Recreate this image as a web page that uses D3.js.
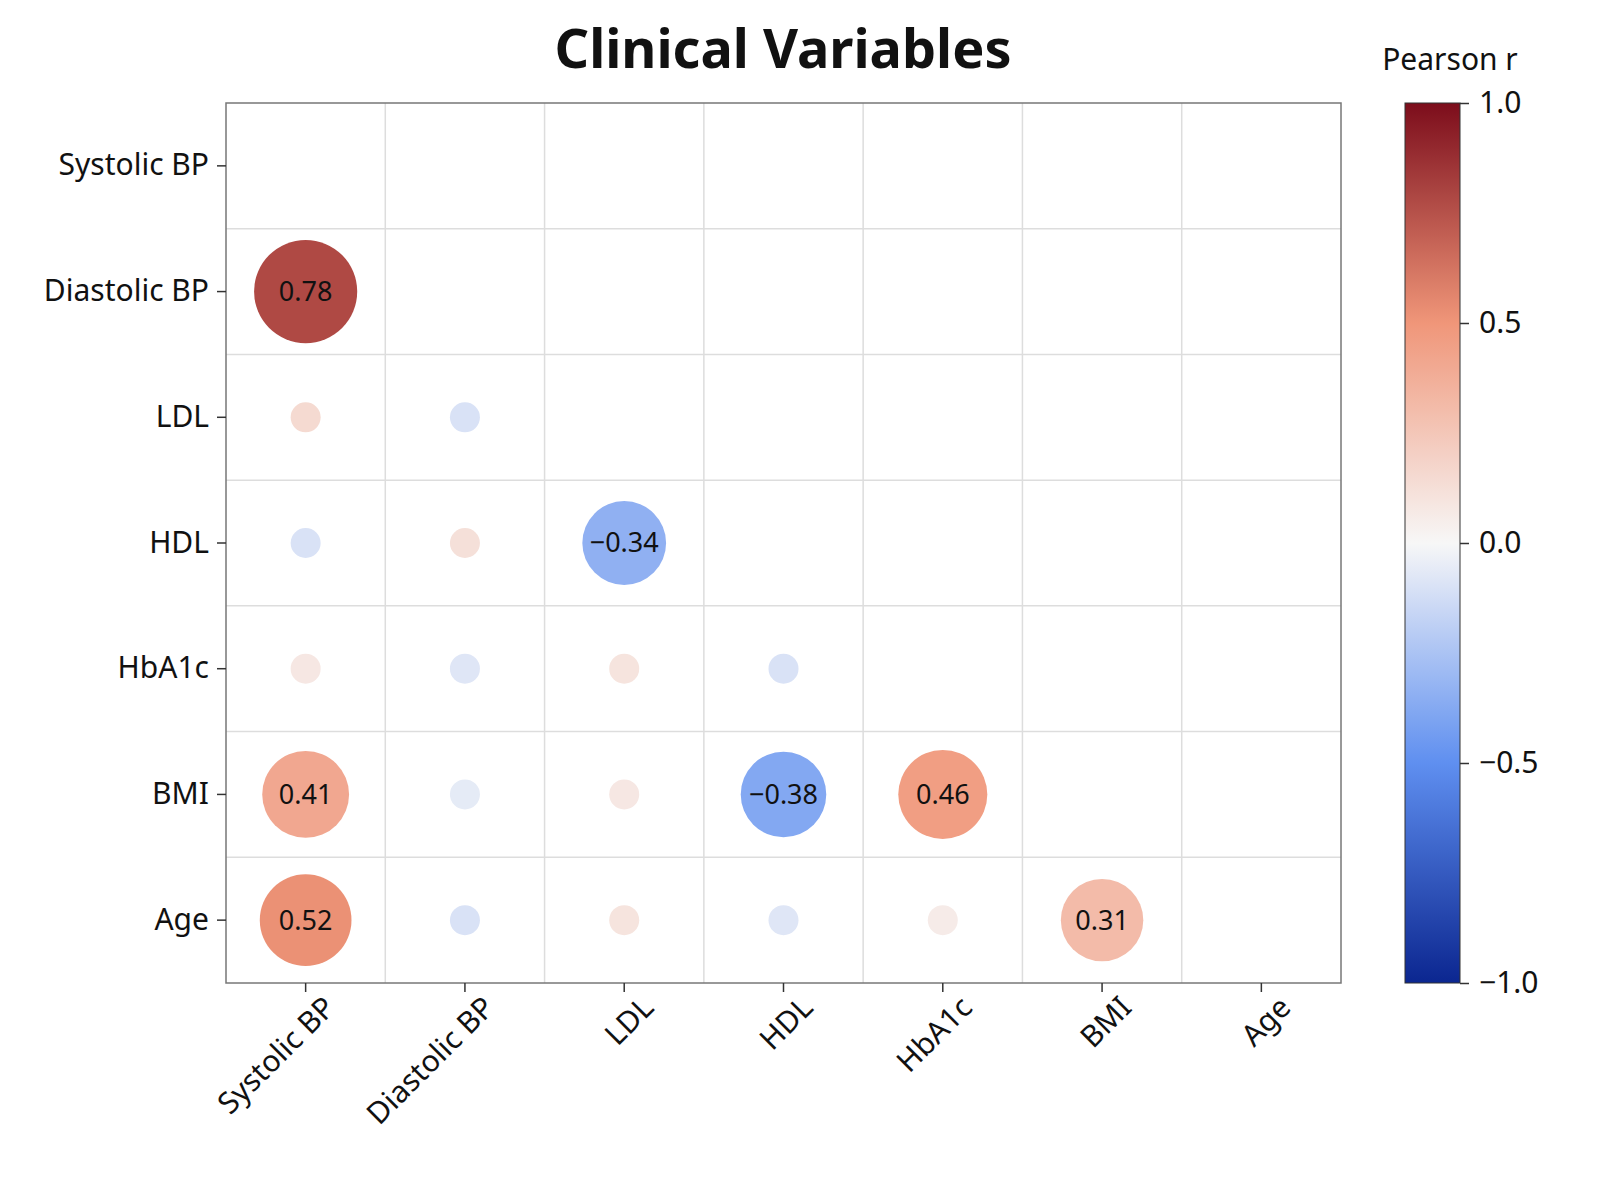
<!DOCTYPE html>
<html>
<head>
<meta charset="utf-8">
<script src="https://cdn.jsdelivr.net/npm/d3@7"></script>
<style>
  body { margin: 0; background: #fff; }
  text { font-family: "Noto Sans", "DejaVu Sans", sans-serif; }
</style>
</head>
<body>
<div id="chart"></div>
<script>
// variables in row/column order
var variables = ["Systolic BP", "Diastolic BP", "LDL", "HDL", "HbA1c", "BMI", "Age"];
// lower triangle correlations: [row, column, r]
var correlations = [
  ["Diastolic BP", "Systolic BP", 0.78],
  ["LDL", "Systolic BP", 0.15],
  ["LDL", "Diastolic BP", -0.1],
  ["HDL", "Systolic BP", -0.1],
  ["HDL", "Diastolic BP", 0.12],
  ["HDL", "LDL", -0.34],
  ["HbA1c", "Systolic BP", 0.08],
  ["HbA1c", "Diastolic BP", -0.08],
  ["HbA1c", "LDL", 0.1],
  ["HbA1c", "HDL", -0.1],
  ["BMI", "Systolic BP", 0.41],
  ["BMI", "Diastolic BP", -0.06],
  ["BMI", "LDL", 0.08],
  ["BMI", "HDL", -0.38],
  ["BMI", "HbA1c", 0.46],
  ["Age", "Systolic BP", 0.52],
  ["Age", "Diastolic BP", -0.1],
  ["Age", "LDL", 0.1],
  ["Age", "HDL", -0.08],
  ["Age", "HbA1c", 0.06],
  ["Age", "BMI", 0.31]
];
var colorbarTicks = [1.0, 0.5, 0.0, -0.5, -1.0];

(function () {
  var W = 1600, H = 1200;
  var pLeft = 226, pTop = 103, pRight = 1341, pBottom = 983;

  var svg = d3.select("#chart").append("svg").attr("width", W).attr("height", H);

  var x = d3.scaleBand().domain(variables).range([pLeft, pRight]);
  var y = d3.scaleBand().domain(variables).range([pTop, pBottom]);

  var color = d3.scaleLinear()
    .domain([-1, -0.5, 0, 0.5, 1])
    .range(["#0b2690", "#5f8ff0", "#f7f7f7", "#f09679", "#7c0d1b"]);

  // radius: small fixed dots for weak correlations, larger for labelled ones
  var radius = d3.scaleLinear().domain([0.3, 0.8]).range([41, 52]).clamp(true);

  // grid
  var grid = svg.append("g");
  variables.forEach(function (v, i) {
    if (i > 0) {
      grid.append("line").attr("x1", x(v)).attr("x2", x(v)).attr("y1", pTop).attr("y2", pBottom)
        .attr("stroke", "#dddddd").attr("stroke-width", 1.5);
      grid.append("line").attr("y1", y(v)).attr("y2", y(v)).attr("x1", pLeft).attr("x2", pRight)
        .attr("stroke", "#dddddd").attr("stroke-width", 1.5);
    }
  });
  svg.append("rect").attr("x", pLeft).attr("y", pTop).attr("width", pRight - pLeft).attr("height", pBottom - pTop)
    .attr("fill", "none").attr("stroke", "#777").attr("stroke-width", 1.5);

  // circles
  var cells = svg.selectAll("g.cell").data(correlations).enter().append("g")
    .attr("class", "cell")
    .attr("transform", function (d) {
      return "translate(" + (x(d[1]) + x.bandwidth() / 2) + "," + (y(d[0]) + y.bandwidth() / 2) + ")";
    });
  cells.append("circle")
    .attr("r", function (d) { return Math.abs(d[2]) >= 0.3 ? radius(Math.abs(d[2])) : 15; })
    .attr("fill", function (d) { return color(d[2]); });
  cells.filter(function (d) { return Math.abs(d[2]) >= 0.3; })
    .append("text")
    .attr("text-anchor", "middle").attr("dy", "0.35em")
    .style("font-size", "27px").style("fill", "#111")
    .text(function (d) { return d3.format(".2f")(d[2]); });

  // axes
  var yAxis = svg.append("g").attr("transform", "translate(" + pLeft + ",0)")
    .call(d3.axisLeft(y).tickSize(9).tickPadding(8));
  yAxis.select(".domain").remove();
  yAxis.selectAll("text").style("font-size", "30px").style("fill", "#111");
  yAxis.selectAll("line").attr("stroke", "#333").attr("stroke-width", 1.5);

  var xAxis = svg.append("g").attr("transform", "translate(0," + pBottom + ")")
    .call(d3.axisBottom(x).tickSize(9).tickPadding(8));
  xAxis.select(".domain").remove();
  xAxis.selectAll("line").attr("stroke", "#333").attr("stroke-width", 1.5);
  xAxis.selectAll("text").style("font-size", "30px").style("fill", "#111")
    .attr("text-anchor", "end").attr("dy", "0.6em").attr("dx", "0.3em")
    .attr("transform", "translate(0,8) rotate(-45)");

  // title
  svg.append("text").attr("x", 783).attr("y", 68).attr("text-anchor", "middle")
    .style("font-size", "54px").style("font-weight", "bold").style("fill", "#111")
    .text("Clinical Variables");

  // colorbar
  var cbX = 1405, cbW = 55;
  var grad = svg.append("defs").append("linearGradient").attr("id", "cbgrad")
    .attr("x1", "0").attr("y1", "1").attr("x2", "0").attr("y2", "0");
  d3.range(0, 1.0001, 0.05).forEach(function (t) {
    grad.append("stop").attr("offset", t).attr("stop-color", color(-1 + 2 * t));
  });
  svg.append("rect").attr("x", cbX).attr("y", pTop).attr("width", cbW).attr("height", pBottom - pTop)
    .attr("fill", "url(#cbgrad)").attr("stroke", "#333").attr("stroke-width", 1);
  var cbScale = d3.scaleLinear().domain([-1, 1]).range([pBottom, pTop]);
  var cbAxis = svg.append("g").attr("transform", "translate(" + (cbX + cbW) + ",0)")
    .call(d3.axisRight(cbScale).tickValues(colorbarTicks).tickSize(9).tickPadding(10)
      .tickFormat(function (d) { return d3.format(".1f")(d).replace("-", "\u2212"); }));
  cbAxis.select(".domain").remove();
  cbAxis.selectAll("line").attr("stroke", "#333").attr("stroke-width", 1.5);
  cbAxis.selectAll("text").style("font-size", "30px").style("fill", "#111");
  svg.append("text").attr("x", 1450).attr("y", 70).attr("text-anchor", "middle")
    .style("font-size", "30px").style("fill", "#111").text("Pearson r");
})();
</script>
</body>
</html>
